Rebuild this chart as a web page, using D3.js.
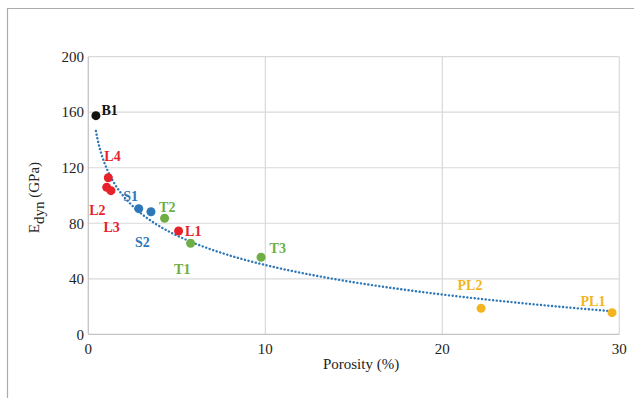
<!DOCTYPE html>
<html>
<head>
<meta charset="utf-8">
<script src="https://cdn.jsdelivr.net/npm/d3@7"></script>
<style>
  body { margin: 0; background: #fff; }
  svg { display: block; font-family: "Liberation Serif", "Times New Roman", serif; }
</style>
</head>
<body>
<script>
// samples
const labels = ['B1', 'L4', 'L2', 'L3', 'S1', 'S2', 'T2', 'L1', 'T1', 'T3', 'PL2', 'PL1']
const groups = ['B', 'L', 'L', 'L', 'S', 'S', 'T', 'L', 'T', 'T', 'PL', 'PL']
const porosity = [0.43, 1.13, 1.04, 1.28, 2.85, 3.54, 4.31, 5.1, 5.78, 9.76, 22.19, 29.59]
const edyn = [157.5, 112.8, 105.9, 103.5, 90.5, 88.3, 83.6, 74.4, 65.6, 55.5, 18.7, 15.6]
const xTicks = [0, 10, 20, 30]
const yTicks = [0, 40, 80, 120, 160, 200]

const colors = { B: '#111111', L: '#e8222b', S: '#2f78b8', T: '#6fae45', PL: '#f2b51d' }
// label placement relative to its point, in px
const labelOffset = {
    B1: [5.5, -0.5], L4: [-4, -17], L2: [-17.5, 28], L3: [-7.5, 41.5],
    S1: [-15.5, -8], S2: [-16, 35], T2: [-5.5, -6.5], L1: [6.5, 4.5],
    T1: [-16.5, 31], T3: [8.5, -4], PL2: [-23.5, -18.5], PL1: [-31.5, -6.5]
}

const w = 634
const h = 398
const plotLeft = 88.3, plotRight = 619.3, plotTop = 56.7, plotBottom = 334.3

const data = labels.map((l, i) => ({ label: l, group: groups[i], x: porosity[i], y: edyn[i] }))

const svg = d3.select('body')
    .append('svg')
    .attr('width', w)
    .attr('height', h)

// figure frame
svg.append('path')
    .attr('d', `M7.5,${h} V8.5 H${w}`)
    .attr('fill', 'none')
    .attr('stroke', '#ababab')
    .attr('stroke-width', 1.2)

const xScale = d3.scaleLinear().domain([0, 30]).range([plotLeft, plotRight])
const yScale = d3.scaleLinear().domain([0, 200]).range([plotBottom, plotTop])

// grid
svg.append('g')
    .selectAll('line')
    .data(yTicks.filter(d => d > 0))
    .enter()
    .append('line')
    .attr('x1', plotLeft).attr('x2', plotRight)
    .attr('y1', d => yScale(d)).attr('y2', d => yScale(d))
    .attr('stroke', '#d9d9d9')
    .attr('stroke-width', 1.2)

svg.append('g')
    .selectAll('line')
    .data(xTicks.filter(d => d > 0))
    .enter()
    .append('line')
    .attr('x1', d => xScale(d)).attr('x2', d => xScale(d))
    .attr('y1', plotTop).attr('y2', plotBottom)
    .attr('stroke', '#d9d9d9')
    .attr('stroke-width', 1.2)

// axes lines
svg.append('line')
    .attr('x1', plotLeft).attr('x2', plotLeft).attr('y1', plotTop).attr('y2', plotBottom)
    .attr('stroke', '#c4c4c4').attr('stroke-width', 1.3)
svg.append('line')
    .attr('x1', plotLeft).attr('x2', plotRight).attr('y1', plotBottom).attr('y2', plotBottom)
    .attr('stroke', '#c4c4c4').attr('stroke-width', 1.3)

// tick labels
svg.append('g')
    .selectAll('text')
    .data(yTicks)
    .enter()
    .append('text')
    .attr('x', 84)
    .attr('y', d => yScale(d))
    .attr('dy', '0.35em')
    .attr('text-anchor', 'end')
    .attr('font-size', 15)
    .attr('fill', '#222')
    .text(d => d)

svg.append('g')
    .selectAll('text')
    .data(xTicks)
    .enter()
    .append('text')
    .attr('x', d => xScale(d))
    .attr('y', 353.5)
    .attr('text-anchor', 'middle')
    .attr('font-size', 15)
    .attr('fill', '#222')
    .text(d => d)

// axis titles
svg.append('text')
    .attr('x', 361)
    .attr('y', 369)
    .attr('text-anchor', 'middle')
    .attr('font-size', 15)
    .attr('fill', '#222')
    .text('Porosity (%)')

const yTitle = svg.append('text')
    .attr('transform', 'translate(39,197.5) rotate(-90)')
    .attr('text-anchor', 'middle')
    .attr('font-size', 15)
    .attr('fill', '#222')
yTitle.append('tspan').text('E')
yTitle.append('tspan').attr('dy', 5).text('dyn')
yTitle.append('tspan').attr('dy', -5).text(' (GPa)')

// logarithmic trend line fitted to the samples
const lx = data.map(d => Math.log(d.x))
const mx = d3.mean(lx)
const my = d3.mean(data, d => d.y)
const slope = d3.sum(data, (d, i) => (lx[i] - mx) * (d.y - my)) / d3.sum(lx, v => (v - mx) * (v - mx))
const intercept = my - slope * mx
const xMin = d3.min(porosity), xMax = d3.max(porosity)
const trend = d3.range(0, 201).map(i => {
    const x = xMin * Math.pow(xMax / xMin, i / 200)
    return [x, intercept + slope * Math.log(x)]
})

svg.append('path')
    .datum(trend)
    .attr('d', d3.line().x(d => xScale(d[0])).y(d => yScale(d[1])))
    .attr('fill', 'none')
    .attr('stroke', '#2f78b8')
    .attr('stroke-width', 2.4)
    .attr('stroke-dasharray', '0.1 3.6')
    .attr('stroke-linecap', 'round')

// points
svg.append('g')
    .selectAll('circle')
    .data(data)
    .enter()
    .append('circle')
    .attr('cx', d => xScale(d.x))
    .attr('cy', d => yScale(d.y))
    .attr('r', 4.5)
    .attr('fill', d => colors[d.group])

svg.append('g')
    .selectAll('text')
    .data(data)
    .enter()
    .append('text')
    .attr('x', d => xScale(d.x) + labelOffset[d.label][0])
    .attr('y', d => yScale(d.y) + labelOffset[d.label][1])
    .attr('font-size', 14)
    .attr('font-weight', 'bold')
    .attr('fill', d => colors[d.group])
    .text(d => d.label)
</script>
</body>
</html>
